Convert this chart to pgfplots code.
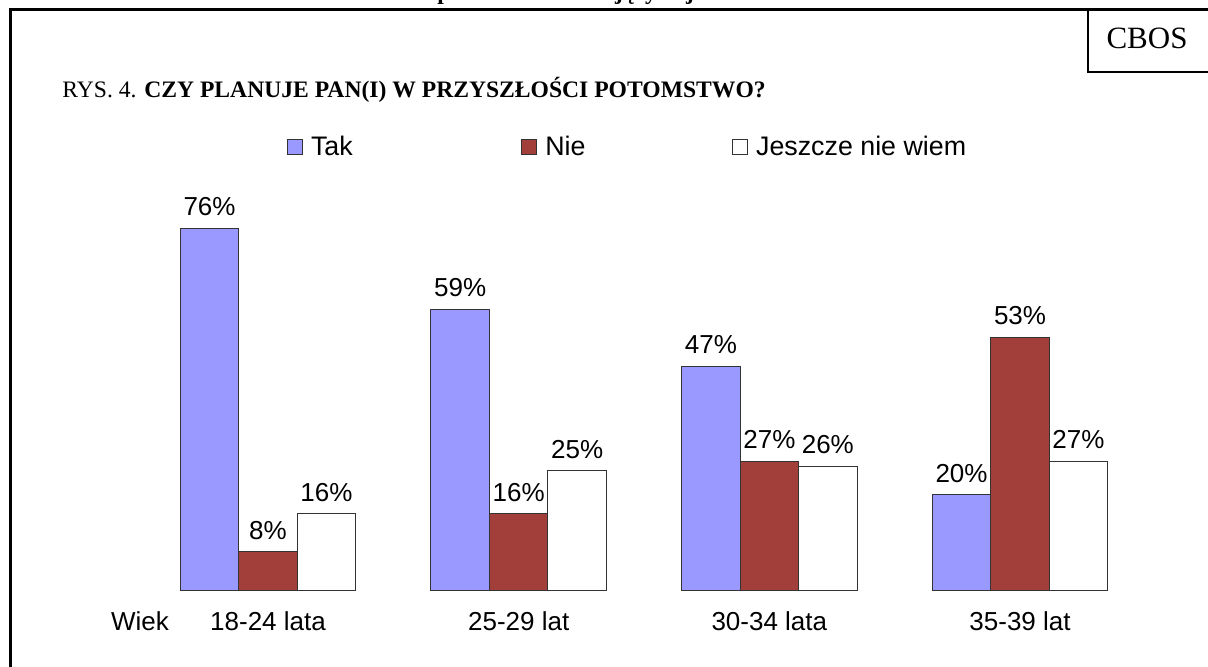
\documentclass[border=0pt]{standalone}
\usepackage{pgfplots}
\pgfplotsset{compat=1.18}
\usepackage{fontspec}
\setmainfont{Liberation Sans}
\newfontfamily\timesfont{Liberation Serif}
\definecolor{takc}{HTML}{9999FF}
\definecolor{niec}{HTML}{A33F3A}
\definecolor{edge}{HTML}{333333}
\pgfplotstableread{
x tak nie nw
0 76 8 16
1 59 16 25
2 47 27 26
3 20 53 27
}\datatable
\begin{document}
\begin{tikzpicture}[x=0.5bp,y=-0.5bp]
\path[use as bounding box, clip] (0,0) rectangle (1208,666);
\fill[white] (0,0) rectangle (1208,666);
% frame
\draw[line width=1.4bp] (10.5,720) -- (10.5,9.5) -- (1240,9.5);
\draw[line width=1.2bp] (1088,9.5) -- (1088,72) -- (1240,72);
\node[font=\timesfont\bfseries\fontsize{11.75bp}{14bp}\selectfont, anchor=base, inner sep=0pt] at (615,0) {Odpowiedzi osób mających jedno dziecko};
\node[font=\timesfont\fontsize{15.5bp}{18bp}\selectfont, anchor=base, inner sep=0pt] at (1147,49) {CBOS};
\node[font=\timesfont\fontsize{11.8bp}{14bp}\selectfont, anchor=base west, inner sep=0pt] at (62,98) {RYS. 4. \textbf{CZY PLANUJE PAN(I) W PRZYSZŁOŚCI POTOMSTWO?}};
\node[font=\fontsize{13bp}{15bp}\selectfont, anchor=base, inner sep=0pt] at (140,630) {Wiek};
\begin{axis}[
  at={(71.335bp,-295bp)}, anchor=south west,
  scale only axis, width=501.33bp, height=190.5bp,
  xmin=-0.5, xmax=3.5, ymin=0, ymax=80,
  clip=false,
  ybar=0pt, bar width=0.2333,
  axis x line*=bottom, axis y line*=left,
  axis line style={draw=none},
  ytick=\empty,
  xtick={0,1,2,3},
  xticklabels={18-24 lata,25-29 lat,30-34 lata,35-39 lat},
  major tick length=0pt,
  xticklabel style={font=\fontsize{13bp}{15bp}\selectfont, anchor=base, inner sep=0pt, yshift=-20bp},
  /pgf/number format/assume math mode=true,
  nodes near coords={\pgfmathprintnumber{\pgfplotspointmeta}\%},
  every node near coord/.append style={font=\fontsize{13bp}{15bp}\selectfont, text=black, anchor=south, inner sep=0pt, yshift=6bp},
  sqleg/.style={legend image code/.code={\draw[##1, line width=0.5bp] (0bp,-3.9bp) rectangle (7.3bp,3.9bp);}},
  legend style={at={(0.144,1.163)}, anchor=west, draw=none, fill=none,
    inner sep=0pt, outer sep=0pt,
    font=\fontsize{13.4bp}{15bp}\selectfont,
    cells={anchor=west, inner sep=0pt},
    /tikz/every odd column/.append style={column sep=2.2bp},
    /tikz/column 2/.style={column sep=82.3bp},
    /tikz/column 4/.style={column sep=71.3bp}},
  legend columns=3,
]
\addplot[fill=takc, draw=edge, line width=0.5bp, sqleg] table[x=x, y=tak] {\datatable};
\addplot[fill=niec, draw=edge, line width=0.5bp, sqleg] table[x=x, y=nie] {\datatable};
\addplot[fill=white, draw=edge, line width=0.5bp, sqleg] table[x=x, y=nw] {\datatable};
\legend{Tak, Nie, Jeszcze nie wiem}
\end{axis}
\end{tikzpicture}
\end{document}
